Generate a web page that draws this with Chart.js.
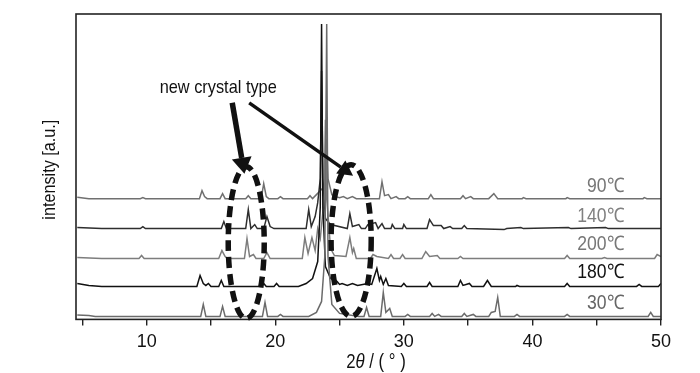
<!DOCTYPE html>
<html>
<head>
<meta charset="utf-8">
<script src="https://cdn.jsdelivr.net/npm/chart.js@4"></script>
<style>
  html, body { margin: 0; padding: 0; background: #fff; }
  #wrap { width: 700px; height: 373px; }
</style>
</head>
<body>
<div id="wrap"><canvas id="xrdChart"></canvas></div>
<script>
// sample labels, bottom to top
var sampleLabels = ['30℃', '180℃', '200℃', '140℃', '90℃'];
// vertical offset of each trace (a.u.)
var offsets = [3, 33, 61, 91, 121];

// [2theta, intensity]
var xrd30 = [[4.6,1.5],[5.5,1],[6,0],[14.2,0],[14.4,12],[14.6,0],[15.7,0],[15.9,10],[16.1,0],[19.0,0],[19.2,14],[19.4,0],[20.2,0],[20.4,2],[20.6,0],[22.6,0],[23.2,4],[23.6,15],[23.85,60],[24.0,293],[24.1,60],[24.4,12],[25.0,3],[26.5,0],[26.9,0],[27.1,9],[27.3,0],[28.2,0],[28.4,24],[28.6,4],[28.9,8],[29.1,0],[30.1,0],[30.3,2],[30.5,0],[32.0,0],[32.2,3],[32.4,0],[32.7,2],[32.9,0],[34.5,0],[34.7,3],[34.9,0],[35.4,2],[35.6,0],[36.6,0],[36.8,4],[37.1,5],[37.3,19],[37.5,0],[38.6,0],[38.8,2],[39.0,0],[42.5,0],[42.7,2],[42.9,0],[49.0,0],[49.2,4],[49.4,0],[50,0]];
var xrd180 = [[4.6,3],[5.5,1],[6.5,0],[13.9,0],[14.15,11],[14.4,3],[14.6,1],[14.8,3],[15.0,0],[15.6,0],[15.8,6],[16.0,0],[18.9,0],[19.1,3],[19.3,0],[19.9,0],[20.1,3],[20.3,0],[21.8,0],[22.4,3],[22.9,8],[23.3,25],[23.5,80],[23.6,263],[23.7,80],[23.9,20],[24.3,8],[24.8,5],[25.0,2],[25.2,3],[25.6,1],[26.0,3],[26.4,1],[27.2,3],[27.5,2],[27.9,18],[28.1,6],[28.2,10],[28.4,2],[28.6,8],[28.8,1],[29.8,0],[30.0,3],[30.2,0],[31.8,0],[32.0,4],[32.2,0],[34.2,0],[34.4,6],[34.6,1],[35.1,3],[35.3,0],[36.2,0],[36.5,6],[36.8,0],[38.7,0],[38.8,1],[39,0],[42.5,0],[42.7,3],[42.9,0],[48.1,0],[48.3,2],[48.5,0],[49.8,0],[50,3]];
var xrd200 = [[4.6,1],[6.5,0],[9.4,0],[9.6,3],[9.8,0],[15.6,0],[15.85,8],[16.1,2],[16.3,0],[17.6,0],[17.8,20],[18.0,2],[18.3,4],[18.5,0],[19.1,0],[19.35,6],[19.6,0],[22.1,0],[22.3,21],[22.55,5],[22.85,21],[23.1,8],[23.3,30],[23.5,20],[23.8,60],[23.9,139],[24.0,60],[24.3,10],[24.6,3],[25.5,2],[25.8,21],[26.0,6],[26.1,10],[26.3,0],[27.4,0],[27.6,4],[27.9,2],[28.8,0],[29.0,4],[29.2,0],[29.7,0],[29.9,4],[30.1,0],[31.4,0],[31.7,7],[32.0,2],[32.6,3],[32.8,0],[34.2,0],[34.4,2],[34.6,0],[42.5,0],[42.7,3],[42.9,0],[45.4,0],[45.6,1],[45.8,0],[49.5,0],[49.7,4],[50,2]];
var xrd140 = [[4.6,1],[6.5,0],[9.5,0],[9.7,2],[9.9,0],[15.8,0],[16.0,7],[16.2,0],[17.7,0],[17.9,19],[18.1,0],[18.4,4],[18.6,0],[19.1,0],[19.35,12],[19.6,2],[19.9,0],[22.4,0],[22.6,19],[22.8,2],[23.1,12],[23.3,26],[23.5,50],[23.6,158],[23.7,50],[23.9,10],[24.3,4],[25.6,0],[25.8,15],[26.0,2],[26.5,4],[26.7,0],[27.0,0],[27.2,4],[27.8,6],[28.0,0],[28.3,5],[28.5,0],[29.0,0],[29.1,4],[29.3,0],[29.9,0],[30.0,4],[30.2,0],[31.8,0],[32.0,9],[32.3,3],[32.9,3],[33.1,0],[33.6,2],[33.8,0],[34.5,0],[34.7,3],[34.9,0],[37.8,-1],[38,0],[39.1,1],[39.3,0],[42.8,1],[43,0],[45.7,1],[45.9,0],[50,0]];
var xrd90 = [[4.6,1.5],[5.5,0],[9.5,0],[9.7,1],[9.9,0],[14.1,0],[14.3,8],[14.5,2],[14.7,0],[15.7,0],[15.9,5],[16.1,0],[17.7,0],[17.9,3],[18.1,0],[18.9,0],[19.1,15],[19.3,2],[19.5,0],[20.2,0],[20.4,2],[20.6,0],[22.5,0],[22.7,3],[22.9,0],[23.2,4],[23.8,12],[23.95,30],[24.0,60],[24.1,20],[24.4,4],[24.7,2],[25.0,1],[25.3,2],[25.6,0],[26.0,2],[26.3,0],[28.1,0],[28.3,17],[28.5,3],[28.8,4],[29.0,0],[29.4,2],[29.6,0],[30.1,0],[30.3,2],[30.5,0],[31.9,0],[32.1,4],[32.3,0],[34.4,0],[34.6,3],[34.8,0],[35.2,2],[35.4,0],[36.6,0],[37.0,5],[37.3,0],[39.2,0],[39.3,1],[39.5,0],[42.6,0],[42.7,1],[42.9,0],[48.6,0],[48.7,1],[48.9,0],[50,0]];

var xTicks = [5, 10, 15, 20, 25, 30, 35, 40, 45, 50];
var xTickLabels = ['', '10', '', '20', '', '30', '', '40', '', '50'];

var series = [xrd30, xrd180, xrd200, xrd140, xrd90];
var lineColors = ['#6b6b6b', '#111111', '#7d7d7d', '#2e2e2e', '#707070'];
var labelColors = ['#666666', '#111111', '#777777', '#808080', '#777777'];
var labelY = [16, 47, 75, 103, 133];

// annotation: dashed ellipses [cx, cy, rx(deg), ry]
var ellipses = [[17.74, 77, 1.4, 76], [25.9, 79, 1.56, 76]];
// arrows [x0, y0, x1, y1, width, head length, head half-width]
var arrows = [[16.65, 217, 17.6, 146, 5.5, 16, 10], [17.97, 217, 26.05, 144, 3.5, 15, 8]];
var noteText = 'new crystal type';
var notePos = [15.56, 232];

var FONT = "'Liberation Sans Narrow', 'Liberation Sans', Arial, sans-serif";

var datasets = series.map(function(s, i) {
    return {
        label: sampleLabels[i],
        data: s.map(function(p) { return { x: p[0], y: p[1] + offsets[i] }; }),
        borderColor: lineColors[i],
        borderWidth: 1.5,
        pointRadius: 0,
        tension: 0,
        fill: false
    };
});

// narrow text: squeeze horizontally around the anchor
function narrowText(c, txt, x, y, font, align, sx) {
    c.save();
    c.font = font;
    c.textAlign = align;
    c.translate(x, y);
    c.scale(sx, 1);
    c.fillText(txt, 0, 0);
    c.restore();
}

var decor = {
    id: 'decor',
    afterDatasetsDraw: function(chart) {
        var c = chart.ctx, a = chart.chartArea;
        var xs = chart.scales.x, ys = chart.scales.y;
        c.save();
        // frame
        c.strokeStyle = '#222';
        c.lineWidth = 1.6;
        c.strokeRect(a.left, a.top, a.right - a.left, a.bottom - a.top);

        // sample labels
        c.textBaseline = 'middle';
        sampleLabels.forEach(function(t, i) {
            c.fillStyle = labelColors[i];
            narrowText(c, t, xs.getPixelForValue(47.14), ys.getPixelForValue(labelY[i]), '20px ' + FONT, 'right', 0.88);
        });

        // dashed ellipses
        c.strokeStyle = '#111';
        c.lineWidth = 5.5;
        c.setLineDash([11, 6]);
        ellipses.forEach(function(e) {
            var cx = xs.getPixelForValue(e[0]), cy = ys.getPixelForValue(e[1]);
            var rx = xs.getPixelForValue(e[0] + e[2]) - cx;
            var ry = cy - ys.getPixelForValue(e[1] + e[3]);
            c.beginPath();
            c.ellipse(cx, cy, rx, ry, 0, 0, Math.PI * 2);
            c.stroke();
        });
        c.setLineDash([]);

        // arrows
        c.fillStyle = '#111';
        arrows.forEach(function(r) {
            var x0 = xs.getPixelForValue(r[0]), y0 = ys.getPixelForValue(r[1]);
            var x1 = xs.getPixelForValue(r[2]), y1 = ys.getPixelForValue(r[3]);
            var ang = Math.atan2(y1 - y0, x1 - x0);
            var hl = r[5], hw = r[6];
            var bx = x1 - Math.cos(ang) * hl, by = y1 - Math.sin(ang) * hl;
            c.lineWidth = r[4];
            c.beginPath();
            c.moveTo(x0, y0);
            c.lineTo(bx, by);
            c.stroke();
            c.beginPath();
            c.moveTo(x1, y1);
            c.lineTo(bx + Math.sin(ang) * hw, by - Math.cos(ang) * hw);
            c.lineTo(bx - Math.sin(ang) * hw, by + Math.cos(ang) * hw);
            c.closePath();
            c.fill();
        });

        // note text
        c.fillStyle = '#111';
        narrowText(c, noteText, xs.getPixelForValue(notePos[0]), ys.getPixelForValue(notePos[1]), '19px ' + FONT, 'center', 0.86);

        // y axis title
        c.save();
        c.translate(50, (a.top + a.bottom) / 2 + 3);
        c.rotate(-Math.PI / 2);
        narrowText(c, 'intensity [a.u.]', 0, 0, '18px ' + FONT, 'center', 0.9);
        c.restore();

        // x axis title: 2θ / ( ° )
        var parts = [['2', ''], ['θ', 'italic '], [' / ( ° )', '']];
        var sx = 0.8, total = 0, f = '21px ';
        parts.forEach(function(p) { c.font = p[1] + f + FONT; total += c.measureText(p[0]).width * sx; });
        var px = 376 - total / 2;
        parts.forEach(function(p) {
            narrowText(c, p[0], px, 362, p[1] + f + FONT, 'left', sx);
            c.font = p[1] + f + FONT;
            px += c.measureText(p[0]).width * sx;
        });
        c.restore();
    }
};

var chart = new Chart(document.getElementById('xrdChart').getContext('2d'), {
    type: 'line',
    data: { datasets: datasets },
    options: {
        responsive: true,
        maintainAspectRatio: false,
        animation: false,
        layout: { padding: { left: 76, right: 39, top: 14, bottom: 14 } },
        plugins: { legend: { display: false }, tooltip: { enabled: false } },
        scales: {
            x: {
                type: 'linear',
                min: 4.5,
                max: 50,
                afterBuildTicks: function(scale) {
                    scale.ticks = xTicks.map(function(v) { return { value: v }; });
                },
                ticks: {
                    autoSkip: false,
                    maxRotation: 0,
                    padding: 6,
                    color: '#111',
                    font: { family: FONT, size: 18 },
                    callback: function(value) {
                        var i = xTicks.indexOf(value);
                        return i >= 0 ? xTickLabels[i] : '';
                    }
                },
                grid: {
                    drawOnChartArea: false,
                    drawTicks: true,
                    tickLength: 6,
                    color: '#222',
                    lineWidth: 1.4
                },
                border: { display: false }
            },
            y: {
                display: false,
                min: 0,
                max: 306
            }
        }
    },
    plugins: [decor]
});
</script>
</body>
</html>
